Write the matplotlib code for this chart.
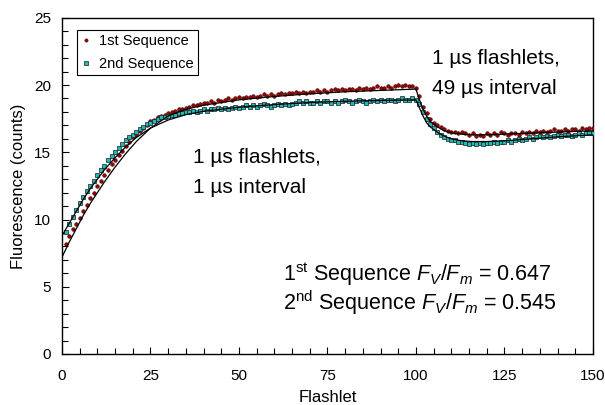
import numpy as np
import matplotlib
matplotlib.use("Agg")
import matplotlib.pyplot as plt
from matplotlib.ticker import MultipleLocator

plt.rcParams['font.family'] = ['Liberation Sans', 'DejaVu Sans']
plt.rcParams['mathtext.fontset'] = 'custom'
plt.rcParams['mathtext.rm'] = 'Liberation Sans'
plt.rcParams['mathtext.it'] = 'Liberation Sans:italic'

# ---- data ----
flashlet = np.arange(1, 151)

seq1 = [
    8.2, 8.8, 9.3, 9.7, 10.1, 10.6, 11.1, 11.6, 12.0, 12.5,
    12.9, 13.3, 13.7, 14.1, 14.4, 14.8, 15.1, 15.5, 15.8, 16.1,
    16.3, 16.6, 16.8, 17.0, 17.3, 17.4, 17.6, 17.7, 17.8, 17.9,
    18.0, 18.1, 18.2, 18.2, 18.3, 18.4, 18.5, 18.5, 18.6, 18.7,
    18.7, 18.8, 18.7, 18.9, 18.8, 18.9, 19.0, 18.9, 19.0, 19.1,
    19.0, 19.1, 19.1, 19.2, 19.1, 19.2, 19.3, 19.2, 19.3, 19.2,
    19.3, 19.4, 19.3, 19.4, 19.4, 19.5, 19.4, 19.5, 19.4, 19.5,
    19.5, 19.6, 19.5, 19.6, 19.5, 19.6, 19.7, 19.6, 19.7, 19.6,
    19.7, 19.7, 19.6, 19.8, 19.7, 19.8, 19.7, 19.8, 19.9, 19.8,
    19.8, 19.9, 19.8, 19.9, 20.0, 19.9, 20.0, 19.9, 19.9, 19.8,
    19.2, 18.4, 17.9, 17.5, 17.2, 17.0, 16.9, 16.7, 16.6, 16.5,
    16.5, 16.4, 16.5, 16.4, 16.3, 16.4, 16.2, 16.3, 16.2, 16.4,
    16.3, 16.4, 16.3, 16.5, 16.4, 16.3, 16.4, 16.4, 16.3, 16.5,
    16.4, 16.5, 16.4, 16.6, 16.5, 16.6, 16.5, 16.6, 16.7, 16.6,
    16.6, 16.7, 16.6, 16.7, 16.7, 16.6, 16.8, 16.7, 16.8, 16.8,
]

seq2 = [
    9.1, 9.7, 10.2, 10.7, 11.2, 11.7, 12.1, 12.5, 12.9, 13.3,
    13.7, 14.0, 14.4, 14.7, 15.0, 15.3, 15.6, 15.9, 16.1, 16.3,
    16.5, 16.7, 16.9, 17.1, 17.2, 17.3, 17.5, 17.6, 17.6, 17.7,
    17.8, 17.8, 17.9, 17.9, 18.0, 18.0, 18.1, 18.0, 18.1, 18.2,
    18.1, 18.2, 18.2, 18.3, 18.2, 18.3, 18.2, 18.3, 18.4, 18.3,
    18.4, 18.5, 18.4, 18.5, 18.4, 18.5, 18.6, 18.5, 18.4, 18.5,
    18.6, 18.5, 18.6, 18.5, 18.6, 18.7, 18.8, 18.7, 18.8, 18.7,
    18.7, 18.8, 18.7, 18.8, 18.8, 18.7, 18.8, 18.7, 18.8, 18.9,
    18.8, 18.7, 18.8, 18.9, 18.8, 18.7, 18.8, 18.9, 18.8, 18.9,
    18.8, 18.9, 18.9, 18.8, 18.9, 19.0, 18.9, 18.9, 19.0, 18.9,
    18.6, 18.0, 17.5, 17.1, 16.8, 16.5, 16.3, 16.1, 16.0, 15.9,
    15.9, 15.8, 15.8, 15.7, 15.6, 15.7, 15.6, 15.7, 15.6, 15.7,
    15.7, 15.8, 15.7, 15.8, 15.8, 15.9, 15.8, 15.9, 16.0, 15.9,
    16.0, 16.1, 16.0, 16.1, 16.2, 16.1, 16.2, 16.1, 16.2, 16.3,
    16.2, 16.3, 16.3, 16.2, 16.3, 16.4, 16.3, 16.4, 16.4, 16.4,
]

# fitted curves (black lines)
fit_x = [0, 2, 4, 6, 8, 10, 12, 15, 18, 21, 25, 30, 35, 40, 50, 60, 70, 80, 90, 100,
         101, 102, 103, 104, 106, 108, 110, 113, 116, 120, 125, 130, 140, 150]
fit1 = [7.2, 8.3, 9.3, 10.3, 11.2, 12.0, 12.8, 13.9, 14.9, 15.8, 16.8, 17.7, 18.2, 18.5,
        18.9, 19.15, 19.35, 19.5, 19.6, 19.7,
        18.9, 18.2, 17.7, 17.3, 16.9, 16.6, 16.45, 16.35, 16.3, 16.3, 16.35, 16.4, 16.5, 16.6]
fit2 = [8.8, 9.7, 10.6, 11.5, 12.3, 13.0, 13.7, 14.6, 15.4, 16.1, 16.8, 17.4, 17.8, 18.05,
        18.35, 18.55, 18.7, 18.8, 18.85, 18.9,
        18.3, 17.7, 17.2, 16.9, 16.5, 16.2, 16.0, 15.85, 15.8, 15.8, 15.85, 15.95, 16.15, 16.3]

fig = plt.figure(figsize=(6.05, 4.05), dpi=100)
ax = fig.add_axes([0.1025, 0.126, 0.8775, 0.83])

ax.plot(flashlet, seq1, 'o', ms=2.6, color='#A00000', mec='#3a0000', mew=0.4,
        label='1st Sequence', zorder=3)
ax.plot(flashlet, seq2, 's', ms=2.9, color='#20B8B8', mec='#1a1a1a', mew=0.5,
        label='2nd Sequence', zorder=3)
ax.plot(fit_x, fit1, color='black', lw=0.9, zorder=4)
ax.plot(fit_x, fit2, color='black', lw=0.9, zorder=4)

ax.set_xlim(0, 150)
ax.set_ylim(0, 25)
ax.xaxis.set_major_locator(MultipleLocator(25))
ax.xaxis.set_minor_locator(MultipleLocator(5))
ax.yaxis.set_major_locator(MultipleLocator(5))
ax.yaxis.set_minor_locator(MultipleLocator(1))
ax.tick_params(which='both', direction='in', labelsize=11, width=0.8)
ax.tick_params(which='major', length=5)
ax.tick_params(which='minor', length=4)
ax.tick_params(axis='x', pad=11)
ax.tick_params(axis='y', pad=8)
for s in ax.spines.values():
    s.set_linewidth(1.0)

ax.set_xlabel("Flashlet", fontsize=12, labelpad=5)
ax.set_ylabel("Fluorescence (counts)", fontsize=12, labelpad=6)

leg = ax.legend(loc='upper left', bbox_to_anchor=(0.028, 0.965), fontsize=10.5,
                fancybox=False, framealpha=1, edgecolor='black', markerscale=0.9,
                handlelength=0.6, handletextpad=0.6, borderpad=0.3, labelspacing=0.6,
                borderaxespad=0.0)
leg.get_frame().set_linewidth(0.8)

ax.text(37, 15.3, "1 \u00b5s flashlets,\n1 \u00b5s interval", fontsize=15,
        va='top', ha='left', linespacing=1.7)
ax.text(104.5, 22.7, "1 \u00b5s flashlets,\n49 \u00b5s interval", fontsize=15,
        va='top', ha='left', linespacing=1.75)
ax.text(62.4, 7.0, "1$^{\\mathrm{st}}$ Sequence $F_V/F_m$ = 0.647\n"
        "2$^{\\mathrm{nd}}$ Sequence $F_V/F_m$ = 0.545", fontsize=15.5,
        va='top', ha='left', linespacing=1.05)

fig.savefig("out.png", dpi=100)
